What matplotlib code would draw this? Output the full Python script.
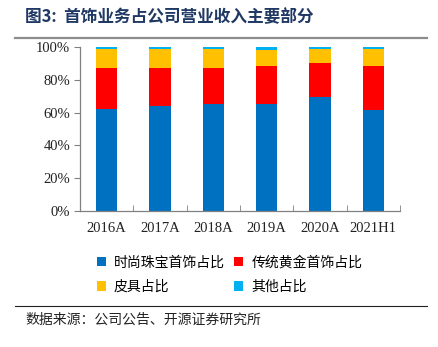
import matplotlib
matplotlib.use('Agg')
import matplotlib.pyplot as plt
import numpy as np
from matplotlib.patches import Patch
from matplotlib.lines import Line2D
from matplotlib.ticker import PercentFormatter

plt.rcParams['font.family'] = ['Noto Sans CJK SC', 'DejaVu Sans']

# 收入结构（%）
years = ['2016A', '2017A', '2018A', '2019A', '2020A', '2021H1']
fashion = [62.0, 64.2, 65.2, 65.2, 69.7, 61.6]
gold = [25.4, 22.8, 22.2, 23.0, 20.5, 27.0]
leather = [11.6, 11.8, 11.4, 10.2, 8.8, 10.0]
other = [1.0, 1.2, 1.2, 1.6, 1.0, 1.4]

names = ['时尚珠宝首饰占比', '传统黄金首饰占比', '皮具占比', '其他占比']
colors = ['#0070C0', '#FF0000', '#FFC000', '#00B0F0']

fig = plt.figure(figsize=(4.38, 3.47), dpi=100)
ax = fig.add_axes([80 / 438, 1 - 211 / 347, 320 / 438, 164 / 347])

x = np.arange(len(years))
bottom = np.zeros(len(years))
for vals, c in zip([fashion, gold, leather, other], colors):
    ax.bar(x, vals, width=0.4, bottom=bottom, color=c)
    bottom += np.array(vals)

ax.set_xlim(-0.5, len(years) - 0.5)
ax.set_ylim(0, 100)
ax.yaxis.set_major_formatter(PercentFormatter(decimals=0))
ax.set_yticks(np.arange(0, 101, 20))

# x 轴刻度放在类别之间
ax.set_xticks(x)
ax.set_xticklabels(years, fontfamily='Liberation Serif', fontsize=10.5)
ax.set_xticks(np.arange(-0.5, len(years)), minor=True)
ax.tick_params(axis='x', which='major', length=0, pad=8)
ax.tick_params(axis='x', which='minor', direction='in', length=4, color='#808080')
ax.tick_params(axis='y', length=4, color='#808080', pad=3)
for lab in ax.get_yticklabels():
    lab.set_fontfamily('Liberation Serif')
    lab.set_fontsize(10.5)
    lab.set_color('#222222')
for lab in ax.get_xticklabels():
    lab.set_color('#222222')

for s in ['top', 'right']:
    ax.spines[s].set_visible(False)
for s in ['left', 'bottom']:
    ax.spines[s].set_color('#808080')
    ax.spines[s].set_linewidth(0.9)

# 图例 2x2（按行排列）
handles = [Patch(facecolor=c) for c in colors]
order = [0, 2, 1, 3]
fig.legend([handles[i] for i in order], [names[i] for i in order],
           ncol=2, frameon=False,
           loc='upper left', bbox_to_anchor=(84 / 438, 1 - 243 / 347),
           handlelength=0.65, handleheight=0.65, handletextpad=0.6,
           columnspacing=0.65, labelspacing=0.75,
           prop={'family': 'Noto Sans CJK SC', 'size': 10})

# 标题与分隔线
fig.text(25 / 438, 1 - 17 / 347, '图3:  首饰业务占公司营业收入主要部分',
         fontsize=12, fontweight='bold', color='#1F3864', va='center', ha='left')
fig.add_artist(Line2D([15 / 438, 427 / 438], [1 - 38 / 347, 1 - 38 / 347],
                      color='#8C8C8C', linewidth=1.6))
fig.add_artist(Line2D([15 / 438, 427 / 438], [1 - 306 / 347, 1 - 306 / 347],
                      color='#222222', linewidth=0.8))
fig.text(25 / 438, 1 - 320 / 347, '数据来源：公司公告、开源证券研究所',
         fontsize=10, color='#222222', va='center', ha='left')

fig.savefig('out.png', dpi=100)
